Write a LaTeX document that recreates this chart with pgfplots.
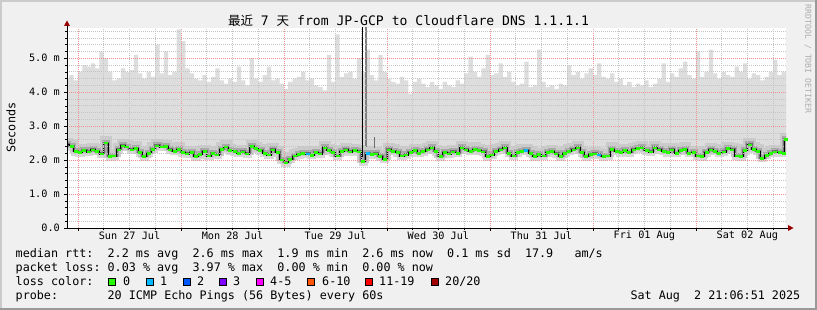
\documentclass[border=0pt]{standalone}
\usepackage{fontspec}
\usepackage{pgfplots}
\pgfplotsset{compat=1.18}
\usepackage{pgfplotstable}
\setmainfont{DejaVu Sans Mono}
\newfontfamily\cjk{Noto Sans CJK SC}
\newcommand\legfont{\fontsize{11.75}{14}\selectfont}
\newcommand\axfont{\fontsize{10.2}{12}\selectfont}
\definecolor{bgc}{HTML}{F0F0F0}
\definecolor{shadea}{HTML}{CBCBCB}
\definecolor{shadeb}{HTML}{999999}
\definecolor{smokel}{HTML}{DDDDDD}
\definecolor{mgrid}{HTML}{F09090}
\definecolor{mingrid}{HTML}{C4C4C4}
\definecolor{arrowc}{HTML}{990000}
\definecolor{l0}{HTML}{26FF00}
\definecolor{l1}{HTML}{00B8FF}
\definecolor{l2}{HTML}{0059FF}
\definecolor{l3}{HTML}{7E00FF}
\definecolor{l4}{HTML}{FF00FF}
\definecolor{l6}{HTML}{FF5500}
\definecolor{l11}{HTML}{FF0000}
\definecolor{l20}{HTML}{A10000}
\definecolor{sm1}{HTML}{D8D8D8}
\definecolor{sm2}{HTML}{CBCBCB}
\definecolor{sm3}{HTML}{A8A8A8}
\definecolor{sm4}{HTML}{6E6E6E}

\pgfplotstableread{
x med max
-3 2.45 4.40
-2 2.40 4.50
-1 2.25 4.35
0 2.22 4.60
1 2.28 4.80
2 2.24 4.75
3 2.30 4.85
4 2.26 4.70
5 2.18 5.20
6 2.50 5.00
7 2.10 4.60
8 2.12 4.35
9 2.30 4.40
10 2.42 4.70
11 2.38 4.60
12 2.30 4.65
13 2.35 5.10
14 2.22 4.55
15 2.10 4.40
16 2.20 4.60
17 2.32 4.45
18 2.42 5.40
19 2.38 4.55
20 2.40 5.20
21 2.30 4.50
22 2.26 4.60
23 2.32 5.85
24 2.22 5.50
25 2.18 4.70
26 2.22 4.55
27 2.10 4.40
28 2.16 4.35
29 2.25 4.50
30 2.12 4.30
31 2.20 4.45
32 2.15 4.70
33 2.32 4.35
34 2.38 4.25
35 2.28 4.40
36 2.25 4.30
37 2.20 4.75
38 2.24 4.35
39 2.18 4.20
40 2.40 5.00
41 2.34 4.40
42 2.28 4.30
43 2.20 4.50
44 2.15 4.75
45 2.30 4.35
46 2.22 4.40
47 2.00 4.25
48 1.92 4.10
49 2.02 4.30
50 2.12 4.40
51 2.16 4.45
52 2.20 4.60
53 2.18 4.35
54 2.14 4.40
55 2.22 4.20
56 2.18 4.15
57 2.36 4.05
58 2.28 5.10
59 2.22 4.30
60 2.12 5.70
61 2.25 4.45
62 2.30 4.55
63 2.24 4.60
64 2.28 4.40
65 2.24 5.00
66 1.95 4.60
67 2.20 5.25
68 2.16 4.50
69 2.18 4.35
70 2.10 5.10
71 2.02 4.60
72 2.30 4.40
73 2.26 4.30
74 2.22 4.25
75 2.12 4.45
76 2.15 4.35
77 2.22 3.95
78 2.28 4.30
79 2.20 4.40
80 2.25 4.25
81 2.30 4.15
82 2.36 4.30
83 2.25 4.20
84 2.10 4.10
85 2.22 4.30
86 2.18 4.20
87 2.24 4.15
88 2.20 4.35
89 2.36 4.25
90 2.30 4.55
91 2.26 5.05
92 2.32 4.60
93 2.28 4.45
94 2.24 4.70
95 2.10 5.10
96 2.15 4.50
97 2.26 4.55
98 2.30 4.85
99 2.36 4.45
100 2.20 4.60
101 2.12 4.30
102 2.22 4.20
103 2.26 4.25
104 2.28 4.90
105 2.20 4.15
106 2.10 4.20
107 2.16 5.25
108 2.12 4.30
109 2.22 4.15
110 2.25 4.20
111 2.18 4.10
112 2.10 4.25
113 2.20 4.20
114 2.26 4.80
115 2.30 4.50
116 2.36 4.60
117 2.22 4.40
118 2.10 4.55
119 2.16 4.70
120 2.18 4.50
121 2.15 4.85
122 2.10 4.45
123 2.12 4.40
124 2.32 4.55
125 2.26 4.30
126 2.22 4.40
127 2.28 4.20
128 2.22 4.30
129 2.30 4.15
130 2.34 4.25
131 2.36 4.20
132 2.28 4.35
133 2.24 4.15
134 2.36 4.25
135 2.30 4.40
136 2.26 4.85
137 2.22 4.30
138 2.30 4.55
139 2.20 4.45
140 2.28 4.70
141 2.32 4.90
142 2.20 4.50
143 2.22 4.40
144 2.12 5.20
145 2.10 4.45
146 2.22 4.60
147 2.30 5.25
148 2.26 4.55
149 2.20 4.40
150 2.24 4.60
151 2.34 4.50
152 2.30 4.45
153 2.12 4.75
154 2.10 4.60
155 2.28 4.85
156 2.45 4.40
157 2.32 4.55
158 2.26 4.50
159 2.05 4.35
160 2.14 4.45
161 2.20 4.60
162 2.24 4.95
163 2.22 4.50
164 2.20 4.60
164.6 2.60 4.60
165.2 2.60 4.60
}\data

\begin{document}
\begin{tikzpicture}[x=1pt,y=1pt]
\fill[shadeb] (0,0) rectangle (817,310);
\fill[shadea] (0,2) rectangle (815,310);
\fill[bgc] (2,2) rectangle (815,308);
\useasboundingbox (0,0) rectangle (817,310);

\begin{axis}[at={(67pt,82pt)}, anchor=south west, scale only axis,
  width=719pt, height=200pt,
  xmin=-2.56, xmax=165, ymin=0, ymax=5.89,
  axis lines=left, axis line style={-, black, line width=0.6pt},
  axis background/.style={fill=white},
  axis on top,
  xtick={0,24,...,144}, xticklabels={},
  minor xtick={6,12,18,30,36,42,54,60,66,78,84,90,102,108,114,126,132,138,150,156,162},
  ytick={0,1,...,5}, yticklabels={0.0,1.0 m,2.0 m,3.0 m,4.0 m,5.0 m},
  minor ytick={0.2,0.4,0.6,0.8,1.2,1.4,1.6,1.8,2.2,2.4,2.6,2.8,3.2,3.4,3.6,3.8,4.2,4.4,4.6,4.8,5.2,5.4,5.6,5.8},
  grid=both,
  major grid style={mgrid, dash pattern=on 1pt off 1pt, line width=0.6pt},
  minor grid style={mingrid, dash pattern=on 1pt off 1pt, line width=0.6pt},
  extra x ticks={12,36,60,84,108,132,156},
  extra x tick labels={Sun 27 Jul,Mon 28 Jul,Tue 29 Jul,Wed 30 Jul,Thu 31 Jul,Fri 01 Aug,Sat 02 Aug},
  extra x tick style={grid=none, major tick length=0pt},
  tick align=outside, major tick length=3pt, minor tick length=2pt,
  tick style={black, line width=0.5pt},
  ticklabel style={font=\axfont},
  yticklabel style={anchor=east, inner sep=0pt, xshift=-4pt},
  xticklabel style={anchor=north, inner sep=0pt, yshift=-3pt},
  clip=true]
\addplot[const plot, draw=none, fill=smokel] table[x=x,y=max]{\data} \closedcycle;
\addplot[const plot, draw=none, fill=white] table[x=x,y=med]{\data} \closedcycle;
\addplot[const plot, sm1, line width=5pt, yshift=-1.5pt] table[x=x,y=med]{\data};
\addplot[const plot, sm2, line width=8pt, yshift=3pt] table[x=x,y=med]{\data};
\addplot[const plot, sm3, line width=4pt, yshift=1.5pt] table[x=x,y=med]{\data};
\addplot[const plot, sm4, line width=2pt, yshift=0.5pt] table[x=x,y=med]{\data};
\addplot[black, line width=0.9pt] coordinates {(66.4,2.08) (66.4,6.3)};
\addplot[color=gray, line width=2.2pt] coordinates {(67.05,2.39) (67.05,6.3)};
\addplot[color=sm4, line width=1pt] coordinates {(69.2,2.35) (69.2,2.68)};
\addplot[const plot, black, line width=0.8pt] table[x=x,y=med]{\data};
\addplot[only marks, mark=-, mark size=2pt, mark options={draw=l0, line width=2.6pt, xshift=2.14pt}] table[x=x,y=med]{\data};
\addplot[only marks, mark=-, mark size=2pt, mark options={draw=l1, line width=2.6pt, xshift=2.14pt}] coordinates {(53,2.18) (67,2.20) (104,2.28) (121,2.15)};
\end{axis}

% axis arrows
\draw[black, line width=0.6pt] (67,282) -- (67,284.5);
\fill[arrowc] (64,284) -- (70,284) -- (67,289.5) -- cycle;
\draw[black, line width=0.6pt] (786,82) -- (788.5,82);
\fill[arrowc] (788,79) -- (788,85) -- (793.5,82) -- cycle;

% title
\node[anchor=base, inner sep=0pt] at (408.5,284) {\fontsize{13.1}{15}\selectfont{\cjk\fontsize{12.5}{15}\selectfont 最近}~7~{\cjk\fontsize{12.5}{15}\selectfont 天}~from~JP-GCP~to~Cloudflare~DNS~1.1.1.1};
% unit
\node[rotate=90, inner sep=0pt, font=\legfont] at (11,182.5) {Seconds};
% watermark
\node[rotate=-90, inner sep=0pt, text=shadeb!80, font=\fontsize{8.2}{10}\selectfont] at (808,251) {RRDTOOL / TOBI OETIKER};

% legend
\node[anchor=base west, inner sep=0pt, font=\legfont] at (15.5,52) {median~rtt:~~2.2~ms~avg~~2.6~ms~max~~1.9~ms~min~~2.6~ms~now~~0.1~ms~sd~~17.9~~~am/s};
\node[anchor=base west, inner sep=0pt, font=\legfont] at (15.5,38) {packet~loss:~0.03~\%~avg~~3.97~\%~max~~0.00~\%~min~~0.00~\%~now};
\node[anchor=base west, inner sep=0pt, font=\legfont] at (15.5,24) {loss~color:};
\foreach \bx/\tx/\lab/\col in {108/123/0/l0, 146/160/1/l1, 183/197/2/l2, 219/233/3/l3, 256/270/4-5/l4, 307/322/6-10/l6, 365/379/11-19/l11, 431/445/20\slash 20/l20}{
  \filldraw[fill=\col, draw=black, line width=0.8pt] (\bx+0.4,24.4) rectangle (\bx+7.6,31.6);
  \node[anchor=base west, inner sep=0pt, font=\legfont] at (\tx,24) {\lab};
}
\node[anchor=base west, inner sep=0pt, font=\legfont] at (15.5,10) {probe:~~~~~~~20~ICMP~Echo~Pings~(56~Bytes)~every~60s};
\node[anchor=base east, inner sep=0pt, font=\legfont] at (800.5,10) {Sat~Aug~~2~21:06:51~2025};
\end{tikzpicture}
\end{document}
